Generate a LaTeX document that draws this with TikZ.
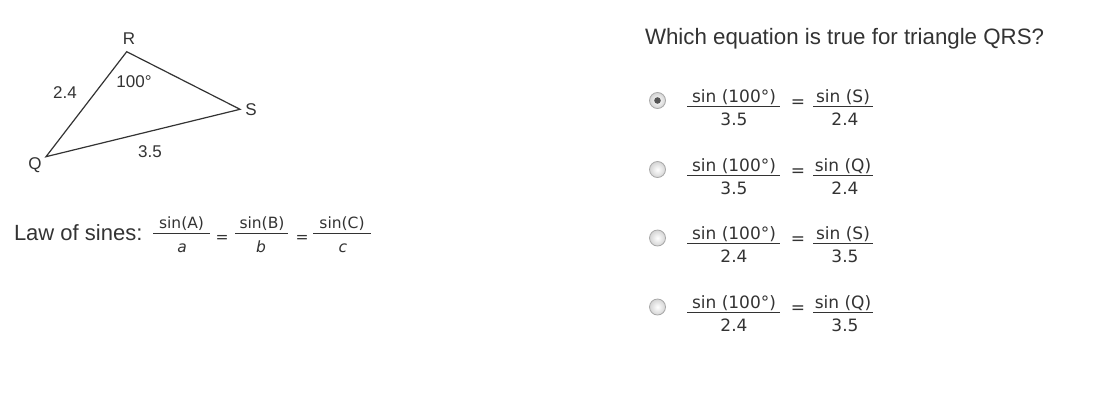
\documentclass[tikz,border=0pt]{standalone}
\usepackage{fontspec}
\setmainfont{Liberation Sans}
\newfontfamily\dvs{DejaVu Sans}
\begin{document}
\begin{tikzpicture}[x=1pt,y=-1pt,
  txt/.style={inner sep=0pt,outer sep=0pt,text=ink},
  tri/.style={draw=ink,line width=1.2pt,line join=miter},
  fracl/.style={draw=ink,line width=0.9pt},
  fr/.style={txt,font=\dvs\fontsize{17}{20}\selectfont,anchor=base},
  fl/.style={txt,font=\dvs\fontsize{15.5}{18}\selectfont,anchor=base},
  lab/.style={txt,font=\fontsize{17}{20}\selectfont},
  radio/.style={circle,minimum size=16pt,inner sep=0pt,draw=radborder,line width=0.8pt,inner color=white,outer color=radfill}]
\definecolor{ink}{HTML}{333333}
\definecolor{radborder}{HTML}{A8A8A8}
\definecolor{radfill}{HTML}{D4D4D4}
\definecolor{dot}{HTML}{555555}
\useasboundingbox[fill=white] (0,0) rectangle (1110,418);

% triangle
\coordinate (R) at (126.7,51.7);
\coordinate (S) at (240,109.3);
\coordinate (Q) at (46,156.7);
\draw[tri] (Q) -- (R) -- (S) -- cycle;
\node[lab] (lR) at (129,39) {R};
\node[lab] (lS) at (251,110) {S};
\node[lab] (lQ) at (35,165) {Q};
\node[lab] (l24) at (65,93) {2.4};
\node[lab] (l100) at (134,82) {100°};
\node[lab] (l35) at (150,151.5) {3.5};

% law of sines
\node[txt,anchor=base west,font=\fontsize{22}{26}\selectfont] (law) at (14,240) {Law of sines:};
\node[fl] (nA) at (181.5,228) {sin(A)};
\node[fl] (dA) at (182,252) {\itshape a};
\draw[fracl] (153,233.3) -- (210,233.3);
\node[fl] (e1) at (222,242) {=};
\node[fl] (nB) at (262,228) {sin(B)};
\node[fl] (dB) at (261,252) {\itshape b};
\draw[fracl] (235,233.3) -- (288,233.3);
\node[fl] (e2) at (302,242) {=};
\node[fl] (nC) at (342,228) {sin(C)};
\node[fl] (dC) at (343,252) {\itshape c};
\draw[fracl] (313,233.3) -- (371,233.3);

% question
\node[txt,anchor=base west,font=\fontsize{22.3}{26}\selectfont] (q) at (645,44) {Which equation is true for triangle QRS?};

% options
\foreach \i/\dy/\den/\ang/\deno in {1/0/3.5/S/2.4, 2/69/3.5/Q/2.4, 3/137.5/2.4/S/3.5, 4/206.5/2.4/Q/3.5}{
  \node[radio] (rb\i) at (657.5,100.5+\dy) {};
  \node[fr] (n\i) at (734,102+\dy) {sin (100°)};
  \node[fr] (d\i) at (734,125+\dy) {\den};
  \draw[fracl] (687,106+\dy) -- (780,106+\dy);
  \node[fr] (eq\i) at (798,107+\dy) {=};
  \node[fr] (m\i) at (843,102+\dy) {sin (\ang)};
  \node[fr] (k\i) at (845,125+\dy) {\deno};
  \draw[fracl] (813,106+\dy) -- (873,106+\dy);
}
\fill[dot] (rb1.center) circle (3.3pt);
\end{tikzpicture}
\end{document}
